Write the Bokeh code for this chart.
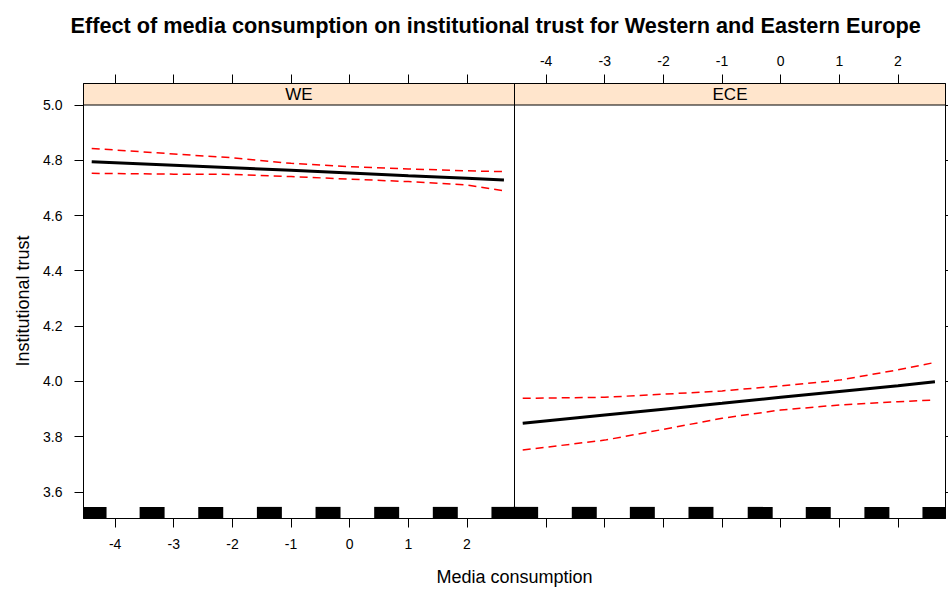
from bokeh.plotting import figure
from bokeh.models import (Range1d, LinearAxis, FixedTicker, PrintfTickFormatter, Span,
                          CustomLabelingPolicy)
from bokeh.embed import file_html
from bokeh.resources import INLINE
from bokeh.core.properties import value

# ---- data ----
title_text = "Effect of media consumption on institutional trust for Western and Eastern Europe"
panels = ["WE", "ECE"]
x_grid = [-4.4, -3, -2, -1, 0, 1, 2, 2.63]
we_fit = [4.795, 4.782, 4.773, 4.764, 4.754, 4.744, 4.735, 4.729]
we_upper = [4.843, 4.823, 4.809, 4.789, 4.777, 4.769, 4.762, 4.759]
we_lower = [4.753, 4.750, 4.749, 4.741, 4.732, 4.723, 4.711, 4.690]
ece_fit = [3.849, 3.879, 3.900, 3.921, 3.943, 3.964, 3.985, 3.999]
ece_upper = [3.939, 3.943, 3.954, 3.966, 3.984, 4.005, 4.042, 4.069]
ece_lower = [3.752, 3.788, 3.827, 3.867, 3.897, 3.915, 3.927, 3.933]
we_rug = [-4.36, -3.37, -2.37, -1.37, -0.37, 0.63, 1.63, 2.63]
ece_rug = [-4.35, -3.35, -2.36, -1.36, -0.35, 0.64, 1.64, 2.63]
x_ticks = [-4, -3, -2, -1, 0, 1, 2]
y_ticks = [3.6, 3.8, 4.0, 4.2, 4.4, 4.6, 4.8, 5.0]

# ---- layout / style ----
FONT = "Liberation Sans"
x_lo, x_hi = -4.54, 2.81
W = x_hi - x_lo
y_lo, y_panel_top, y_top = 3.5045, 5.0, 5.0778
rug_w, rug_h = 0.426, 0.042
RED = "#FF0000"
STRIP = "#FFE5CC"

p = figure(width=948, height=589, output_backend="svg", toolbar_location=None,
           x_range=Range1d(x_lo, x_hi + W), y_range=Range1d(y_lo, y_top),
           min_border_left=83, min_border_right=3, min_border_top=83, min_border_bottom=71,
           title=title_text)
p.extra_x_ranges = {"ece": Range1d(x_lo - W, x_hi)}
p.grid.visible = False
p.outline_line_color = "black"
p.background_fill_color = "white"
p.border_fill_color = "white"

p.title.text_font = FONT
p.title.text_font_size = "21.7px"
p.title.text_font_style = "bold"
p.title.text_color = "black"
p.title.align = "left"
p.title.vertical_align = "top"
p.title.offset = -13
p.title.standoff = 25

def keep_first(n):
    return CustomLabelingPolicy(args=dict(n=n), code="""
        const keep = [];
        for (let i = 0; i < Math.min(n, indices.size); i++) keep.push(i);
        return keep;
    """)

def style_axis(ax, tick_out=9, standoff=8, label_size="14px"):
    ax.axis_line_color = "black"
    ax.major_tick_line_color = "black"
    ax.major_tick_in = 0
    ax.major_tick_out = tick_out
    ax.minor_tick_line_color = None
    ax.major_label_text_font = FONT
    ax.major_label_text_font_size = label_size
    ax.major_label_text_color = "black"
    ax.major_label_standoff = standoff
    ax.axis_label_text_font = FONT
    ax.axis_label_text_font_size = "18px"
    ax.axis_label_text_font_style = "normal"
    ax.axis_label_text_color = "black"

shift = [round(t + W, 6) for t in x_ticks]
shift_back = [round(t - W, 6) for t in x_ticks]

# bottom axis (WE labelled, ECE ticks only)
bx = p.xaxis[0]
bx.ticker = FixedTicker(ticks=x_ticks + shift)
bx.formatter = PrintfTickFormatter(format="%d")
bx.major_label_policy = keep_first(len(x_ticks))
bx.axis_label = "Media consumption"
style_axis(bx, standoff=11)
bx.axis_label_standoff = 15

# top axis (ECE labelled, WE ticks only)
tx = LinearAxis(x_range_name="ece", ticker=FixedTicker(ticks=x_ticks + shift_back),
                formatter=PrintfTickFormatter(format="%d"))
tx.major_label_policy = keep_first(len(x_ticks))
style_axis(tx, standoff=9)
p.add_layout(tx, "above")

# left axis
ly = p.yaxis[0]
ly.ticker = FixedTicker(ticks=y_ticks)
ly.formatter = PrintfTickFormatter(format="%.1f")
ly.axis_label = "Institutional trust"
style_axis(ly, standoff=12)
ly.axis_label_standoff = 7

# right axis (ticks only, no labels drawn)
ry = LinearAxis(ticker=FixedTicker(ticks=y_ticks))
style_axis(ry, tick_out=3, standoff=0, label_size="0px")
ry.major_label_policy = keep_first(0)
p.add_layout(ry, "right")

# strips
p.quad(left=[x_lo], right=[x_hi + W], bottom=[y_panel_top], top=[y_top],
       fill_color=STRIP, line_color=None)
p.add_layout(Span(location=y_panel_top, dimension="width", line_color="black", line_width=1))
p.add_layout(Span(location=x_hi, dimension="height", line_color="black", line_width=1))

strip_y = [(y_panel_top + y_top) / 2]
strip_x = [(x_lo + x_hi) / 2]
p.text(x=strip_x, y=strip_y, text=[panels[0]], text_font=value(FONT), text_font_size="17px",
       text_align="center", text_baseline="middle", text_color="black")
p.text(x=strip_x, y=strip_y, text=[panels[1]], text_font=value(FONT), text_font_size="17px",
       text_align="center", text_baseline="middle", text_color="black", x_range_name="ece")

# WE panel
p.vbar(x=we_rug, width=rug_w, bottom=y_lo, top=y_lo + rug_h, fill_color="black", line_color=None)
p.line(x_grid, we_upper, line_color=RED, line_width=1.5, line_dash="8 5")
p.line(x_grid, we_lower, line_color=RED, line_width=1.5, line_dash="8 5")
p.line(x_grid, we_fit, line_color="black", line_width=3)

# ECE panel
p.vbar(x=ece_rug, width=rug_w, bottom=y_lo, top=y_lo + rug_h, fill_color="black",
       line_color=None, x_range_name="ece")
p.line(x_grid, ece_upper, line_color=RED, line_width=1.5, line_dash="8 5", x_range_name="ece")
p.line(x_grid, ece_lower, line_color=RED, line_width=1.5, line_dash="8 5", x_range_name="ece")
p.line(x_grid, ece_fit, line_color="black", line_width=3, x_range_name="ece")

open("out.html", "w").write(file_html(p, INLINE))
